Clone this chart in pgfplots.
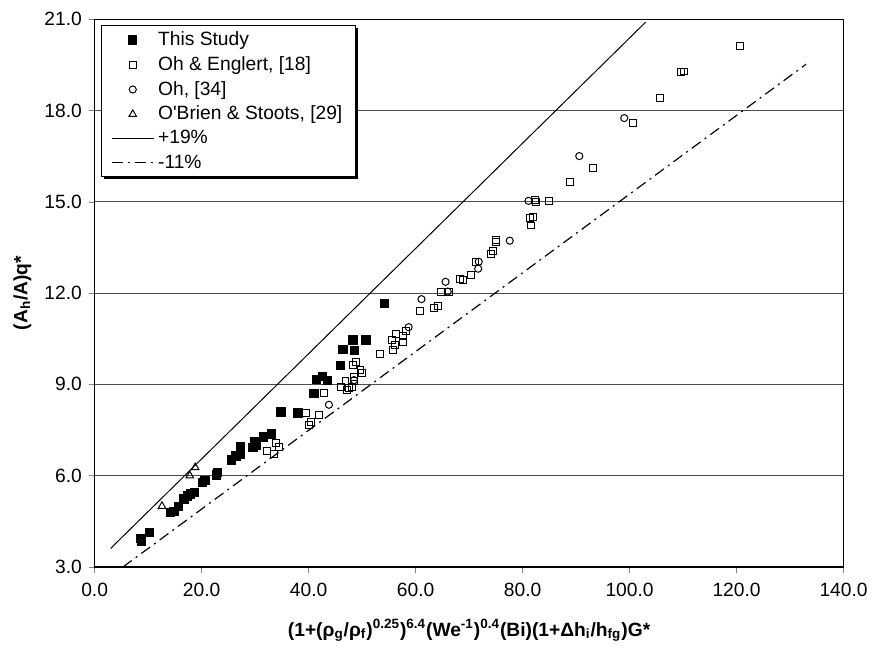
\documentclass[border=0pt]{standalone}
\usepackage{fontspec}
\setmainfont{Liberation Sans}[Ligatures=TeXOff]
\usepackage{pgfplots}
\pgfplotsset{compat=1.18}
\usetikzlibrary{shadows}
\makeatletter
\tikzset{nopreactions/.code={\let\tikz@preactions\pgfutil@empty}}
\makeatother

\begin{document}
\fontsize{9.7}{11.6}\selectfont
\begin{tikzpicture}
\begin{axis}[
  width=378pt,height=276.5pt,scale only axis,
  xmin=0,xmax=140,ymin=3,ymax=21,
  xtick={0,20,...,140},ytick={3,6,...,21},
  ymajorgrids,grid style={black!70,line width=0.5pt},
  tick align=outside,tick pos=left,major tick length=3pt,
  axis line style={line width=0.6pt},
  ticklabel style={font=\fontsize{9.7}{11}\selectfont},
  xticklabel style={yshift=-1.5pt},
  /pgf/number format/fixed,/pgf/number format/fixed zerofill,
  /pgf/number format/precision=1,/pgf/number format/assume math mode=true,
  xlabel={\textbf{(1+(ρ\textsubscript{g}/ρ\textsubscript{f})\textsuperscript{0.25})\textsuperscript{6.4}(We\textsuperscript{-1})\textsuperscript{0.4}(Bi)(1+Δh\textsubscript{i}/h\textsubscript{fg})G*}},
  ylabel={\textbf{(A\textsubscript{h}/A)q*}},
  label style={font=\fontsize{9.7}{11}\selectfont},
  xlabel style={yshift=-5pt},
  legend style={at={(0.009,0.989)},anchor=north west,draw=black,fill=white,
    line width=0.5pt,
    drop shadow={shadow xshift=1.2pt,shadow yshift=-1.2pt,fill=black,opacity=1},
    font=\fontsize{9.7}{11}\selectfont,row sep=0pt,inner xsep=4.8pt,inner ysep=1pt},
  legend cell align=left,
  legend image code/.code={\draw[nopreactions,mark repeat=2,mark phase=2,#1] plot coordinates {(0pt,0pt)(10.5pt,0pt)(21pt,0pt)};},
]
% This Study
\addplot[only marks,mark=square*,mark size=2.1pt,black] coordinates {
(8.6,3.95)(8.8,3.85)(10.3,4.13)(14.2,4.80)(14.8,4.82)(15.7,5.0)(16.7,5.24)
(17.3,5.34)(17.9,5.40)(18.7,5.45)(20.2,5.78)(20.6,5.85)(22.8,6.03)(23.0,6.1)
(25.6,6.52)(26.4,6.65)(27.2,6.70)(27.2,6.95)(29.6,6.92)(29.9,7.13)(30.2,7.0)
(31.5,7.27)(33.0,7.37)(34.8,8.1)(38.0,8.06)(41.0,8.71)(41.5,9.16)(42.6,9.27)
(43.5,9.14)(46.0,9.63)(46.4,10.16)(48.5,10.12)(48.3,10.46)(50.7,10.46)(54.2,11.66)};
\addlegendentry{This Study}
% Oh & Englert
\addplot[only marks,mark=square,mark size=1.75pt,black,line width=0.5pt] coordinates {
(32.3,6.81)(33.5,6.70)(33.9,7.08)(34.4,6.95)(39.5,8.06)(40.1,7.65)(40.5,7.75)
(42.0,8.0)(42.9,8.71)(46.0,8.92)(46.9,9.12)(47.2,8.82)(47.6,8.88)(48.1,8.92)
(48.5,9.12)(48.5,9.25)(48.3,9.63)(48.8,9.74)(49.7,9.47)(50.0,9.36)(53.4,10.0)
(55.7,10.14)(56.2,10.28)(55.6,10.46)(56.4,10.66)(57.7,10.39)(57.7,10.6)(58.2,10.75)
(60.8,11.40)(63.4,11.5)(64.2,11.56)(64.8,12.05)(66.2,12.05)(68.3,12.45)(68.8,12.42)
(70.4,12.59)(71.2,13.03)(74.1,13.27)(74.5,13.39)(75.0,13.68)(75.0,13.73)(81.5,14.22)
(81.3,14.46)(82.0,14.49)(82.3,15.05)(82.5,14.98)(85.0,15.03)(88.8,15.64)(93.2,16.12)
(100.6,17.59)(105.7,18.41)(109.6,19.25)(110.1,19.28)(120.7,20.13)};
\addlegendentry{Oh \& Englert, [18]}
% Oh
\addplot[only marks,mark=o,mark size=1.8pt,black,line width=0.5pt] coordinates {
(43.8,8.33)(48.5,9.14)(58.7,10.88)(61.1,11.8)(65.6,12.37)(66.0,12.05)(71.7,12.80)
(71.8,13.03)(77.6,13.72)(81.1,15.03)(90.6,16.5)(99.0,17.75)};
\addlegendentry{Oh, [34]}
% O'Brien & Stoots
\addplot[only marks,mark=triangle,mark size=2.2pt,black,line width=0.5pt] coordinates {
(12.6,5.0)(17.8,6.0)(18.8,6.27)};
\addlegendentry{O'Brien \& Stoots, [29]}
\addplot[black,line width=0.5pt] coordinates {(3,3.61)(103,20.90)};
\addlegendentry{+19\%}
\addplot[black,line width=0.6pt,dash pattern=on 5.5pt off 2.5pt on 1pt off 2.5pt] coordinates {(5.3,3.0)(133,19.52)};
\addlegendentry{-11\%}
\end{axis}
\path ([xshift=-3.5pt,yshift=3pt]current bounding box.north west);
\end{tikzpicture}
\end{document}
